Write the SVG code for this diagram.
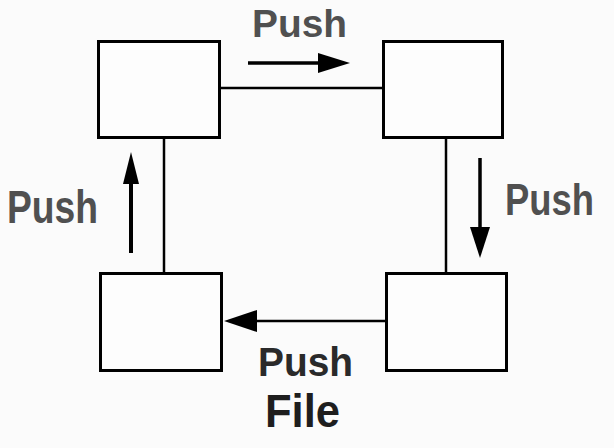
<svg xmlns="http://www.w3.org/2000/svg" width="614" height="448" viewBox="0 0 614 448">
<style>
.box{fill:#fdfdfd;stroke:#000;stroke-width:3}
.conn{stroke:#000;stroke-width:2.5;fill:none}
.arr{stroke:#000;stroke-width:3.5;fill:none}
.head{fill:#000}
.lbl{font-family:"Liberation Sans",Arial,sans-serif;font-weight:bold;fill:#505050}
</style>
<rect width="614" height="448" fill="#fbfbfb"/>
<g id="connectors">
<line class="conn" x1="221" y1="88" x2="382" y2="88"/>
<line class="conn" x1="164" y1="139" x2="164" y2="272"/>
<line class="conn" x1="446" y1="139" x2="446" y2="272"/>
<line class="conn" x1="250" y1="321" x2="385" y2="321"/>
<polygon class="head" points="224,321 257,310 257,332"/>
</g>
<g id="arrows">
<line class="arr" x1="248" y1="63" x2="322" y2="63"/>
<polygon class="head" points="350,63 318,53 318,73"/>
<line class="arr" x1="131" y1="253" x2="131" y2="180" style="stroke-width:4"/>
<polygon class="head" points="131,152 123,184 139,184"/>
<line class="arr" x1="480" y1="158" x2="480" y2="230"/>
<polygon class="head" points="480,258 470,227 490,227"/>
</g>
<g id="node1"><rect class="box" x="98.5" y="41.5" width="121" height="96"/></g>
<g id="node2"><rect class="box" x="383.5" y="41.5" width="119" height="96"/></g>
<g id="node3"><rect class="box" x="100.5" y="273.5" width="121" height="97"/></g>
<g id="node4"><rect class="box" x="386.5" y="273.5" width="120" height="97"/></g>
<g id="labels">
<text class="lbl" x="252" y="37" font-size="38" textLength="95" lengthAdjust="spacingAndGlyphs">Push</text>
<text class="lbl" x="7" y="223" font-size="46" textLength="91" lengthAdjust="spacingAndGlyphs">Push</text>
<text class="lbl" x="505" y="215" font-size="45" textLength="89" lengthAdjust="spacingAndGlyphs">Push</text>
<text class="lbl" x="258" y="376" font-size="40" textLength="95" lengthAdjust="spacingAndGlyphs" style="fill:#2a2a2a">Push</text>
<text class="lbl" x="265" y="427" font-size="47" textLength="75" lengthAdjust="spacingAndGlyphs" style="fill:#1e1e1e">File</text>
</g>
</svg>
